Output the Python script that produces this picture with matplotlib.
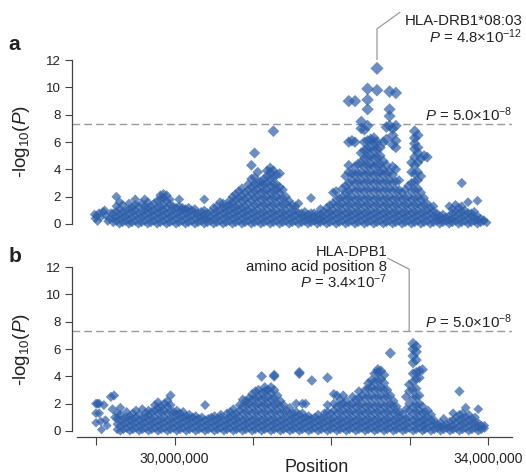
"""
Regional association plot of the MHC region: two stacked panels (a, b)
of -log10(P) against chromosome position, drawn as semi-transparent diamonds.
"""

import matplotlib

matplotlib.use("Agg")
import matplotlib.pyplot as plt  # noqa: E402
from matplotlib.transforms import blended_transform_factory  # noqa: E402

# position (Mb) -> -log10(P) values, panel a
A_COLUMNS = [
    (28.98, [0.7]), (28.99, [0.4]), (29.01, [0.6]), (29.02, [0.2]), (29.04, [0.8]),
    (29.06, [0.5]), (29.09, [0.9]), (29.11, [1.0]), (29.13, [0.6]), (29.15, [0.2]),
    (29.17, [0.4]), (29.19, [0.8]),
    (29.22, [0.1, 0.4, 0.8]), (29.26, [0.2, 0.5, 0.9, 1.3, 2.0]),
    (29.30, [0.0, 0.4, 0.7, 1.1, 1.6]), (29.34, [0.1, 0.5, 0.9, 1.4]),
    (29.38, [0.2, 0.6, 1.0]), (29.42, [0.0, 0.3, 0.7, 1.1, 1.5]),
    (29.46, [0.1, 0.5, 0.9, 1.2]), (29.50, [0.2, 0.6, 1.0, 1.4, 1.8]),
    (29.54, [0.0, 0.4, 0.8, 1.3]), (29.58, [0.1, 0.5, 0.9, 1.5]),
    (29.62, [0.2, 0.6, 1.0, 1.3, 1.8]), (29.66, [0.0, 0.4, 0.8, 1.2, 1.6]),
    (29.70, [0.1, 0.5, 0.9, 1.3]), (29.74, [0.2, 0.6, 1.0, 1.5]),
    (29.78, [0.0, 0.4, 0.8, 1.2, 1.7]), (29.82, [0.1, 0.5, 0.9, 1.3, 1.8, 2.1]),
    (29.86, [0.2, 0.6, 1.0, 1.4, 1.9, 2.2]), (29.90, [0.0, 0.4, 0.8, 1.2, 1.7, 2.1]),
    (29.94, [0.1, 0.5, 0.9, 1.4, 1.8]), (29.98, [0.2, 0.6, 1.0, 1.3]),
    (30.02, [0.0, 0.4, 0.8, 1.2]), (30.06, [0.1, 0.5, 0.9, 1.3, 1.8]),
    (30.10, [0.2, 0.6, 1.0, 1.2]), (30.14, [0.0, 0.4, 0.8, 1.1]),
    (30.18, [0.1, 0.5, 0.9, 1.2]), (30.22, [0.2, 0.6, 1.0]),
    (30.26, [0.0, 0.4, 0.8, 1.1]), (30.30, [0.1, 0.5, 0.8]),
    (30.34, [0.2, 0.5, 0.9]), (30.38, [0.0, 0.4, 0.7, 1.0, 1.8]),
    (30.42, [0.1, 0.4, 0.8]), (30.46, [0.2, 0.5, 0.9]),
    (30.50, [0.0, 0.4, 0.8, 1.2]), (30.54, [0.1, 0.5, 0.9, 1.3]),
    (30.58, [0.2, 0.6, 1.0, 1.6]), (30.62, [0.0, 0.4, 0.8, 1.2, 1.5]),
    (30.66, [0.1, 0.5, 0.9, 1.3]), (30.70, [0.2, 0.6, 1.0, 1.4, 1.7]),
    (30.74, [0.0, 0.4, 0.8, 1.2, 1.6, 2.0]), (30.78, [0.1, 0.5, 0.9, 1.3, 1.8, 2.2]),
    (30.82, [0.2, 0.6, 1.0, 1.4, 1.9, 2.4]), (30.86, [0.0, 0.4, 0.8, 1.2, 1.7, 2.1, 2.6]),
    (30.90, [0.1, 0.5, 0.9, 1.3, 1.8, 2.3]), (30.94, [0.2, 0.6, 1.0, 1.5, 2.0, 2.5, 2.9]),
    (30.98, [0.0, 0.4, 0.8, 1.2, 1.7, 2.2, 2.7, 3.3, 4.3]),
    (31.02, [0.1, 0.5, 0.9, 1.4, 1.9, 2.4, 2.9, 3.4, 5.2]),
    (31.06, [0.2, 0.6, 1.0, 1.5, 2.0, 2.5, 3.0, 3.8]),
    (31.10, [0.0, 0.4, 0.8, 1.3, 1.8, 2.3, 2.8, 3.1]),
    (31.14, [0.1, 0.5, 0.9, 1.4, 1.9, 2.4, 2.9, 3.3]),
    (31.18, [0.2, 0.6, 1.0, 1.5, 2.0, 2.5, 3.0, 3.5, 3.9]),
    (31.22, [0.0, 0.4, 0.8, 1.3, 1.8, 2.3, 2.8, 3.3, 3.8, 4.1]),
    (31.26, [0.1, 0.5, 0.9, 1.4, 1.9, 2.4, 2.9, 3.4, 3.9, 6.8]),
    (31.30, [0.2, 0.6, 1.0, 1.5, 2.0, 2.5, 2.9, 3.6]),
    (31.34, [0.0, 0.4, 0.8, 1.3, 1.8, 2.3, 2.7, 3.7]),
    (31.38, [0.1, 0.5, 0.9, 1.4, 1.9, 2.5]), (31.42, [0.2, 0.6, 1.0, 1.5, 2.0]),
    (31.46, [0.0, 0.4, 0.8, 1.3, 1.7]), (31.50, [0.1, 0.5, 0.9, 1.4]),
    (31.54, [0.2, 0.6, 1.0, 1.3]), (31.58, [0.0, 0.4, 0.8, 1.5]),
    (31.62, [0.1, 0.5, 0.8]), (31.66, [0.2, 0.5, 0.9]), (31.70, [0.0, 0.4, 0.7]),
    (31.74, [0.1, 0.4, 0.8, 1.9]), (31.78, [0.2, 0.5, 0.8]), (31.82, [0.0, 0.3, 0.7]),
    (31.86, [0.1, 0.4, 0.7, 1.1]), (31.90, [0.2, 0.5, 0.9]),
    (31.94, [0.0, 0.4, 0.8, 1.2]), (31.98, [0.1, 0.5, 0.9, 1.4]),
    (32.02, [0.2, 0.6, 1.0, 1.5, 2.3]), (32.06, [0.0, 0.4, 0.8, 1.3, 1.8, 2.4]),
    (32.10, [0.1, 0.5, 0.9, 1.4, 1.9]), (32.14, [0.2, 0.6, 1.0, 1.5, 2.0, 2.6]),
    (32.18, [0.0, 0.4, 0.8, 1.3, 1.8, 2.3, 2.8, 3.5]),
    (32.22, [0.1, 0.5, 0.9, 1.4, 1.9, 2.4, 3.0, 3.8, 4.3, 6.0, 9.0]),
    (32.26, [0.2, 0.6, 1.0, 1.5, 2.0, 2.6, 3.2, 3.7, 6.1]),
    (32.30, [0.0, 0.4, 0.8, 1.3, 1.8, 2.4, 3.0, 3.6, 4.2, 6.0, 9.0]),
    (32.34, [0.1, 0.5, 0.9, 1.4, 1.9, 2.5, 3.1, 3.7, 4.4]),
    (32.38, [0.2, 0.6, 1.0, 1.5, 2.0, 2.6, 3.2, 3.8, 4.5, 5.2, 7.0, 7.5]),
    (32.42, [0.0, 0.4, 0.8, 1.3, 1.8, 2.4, 3.0, 3.6, 4.2, 4.8, 5.4, 6.0, 6.9]),
    (32.46, [0.1, 0.5, 0.9, 1.4, 1.9, 2.5, 3.1, 3.7, 4.3, 4.9, 5.5, 6.1, 7.2, 8.4, 9.1, 9.9]),
    (32.50, [0.2, 0.6, 1.0, 1.5, 2.0, 2.6, 3.2, 3.8, 4.4, 5.0, 5.6, 6.2]),
    (32.54, [0.0, 0.4, 0.8, 1.3, 1.8, 2.4, 3.0, 3.6, 4.2, 4.8, 5.4, 6.0, 6.3]),
    (32.58, [0.1, 0.5, 0.9, 1.4, 1.9, 2.5, 3.1, 3.7, 4.3, 4.9, 5.5, 6.0, 9.8, 11.4]),
    (32.62, [0.2, 0.6, 1.0, 1.5, 2.0, 2.6, 3.2, 3.8, 4.4, 5.0, 5.6]),
    (32.66, [0.0, 0.4, 0.8, 1.3, 1.8, 2.4, 3.0, 3.6, 4.0, 4.6, 6.0]),
    (32.70, [0.1, 0.5, 0.9, 1.4, 1.9, 2.5, 3.1, 3.7, 4.3, 6.2, 7.1]),
    (32.74, [0.2, 0.6, 1.0, 1.5, 2.0, 2.6, 3.2, 3.8, 7.2, 7.9, 8.4, 9.7]),
    (32.78, [0.0, 0.4, 0.8, 1.3, 1.8, 2.4, 3.0, 3.6, 4.2, 5.8, 6.5, 7.0]),
    (32.82, [0.1, 0.5, 0.9, 1.4, 1.9, 2.5, 3.1, 4.0, 5.6, 6.1, 7.2, 9.6]),
    (32.86, [0.2, 0.6, 1.0, 1.5, 2.0, 2.5, 3.2]), (32.90, [0.0, 0.4, 0.8, 1.3, 1.8, 2.3]),
    (32.94, [0.1, 0.5, 0.9, 1.4, 1.9, 2.5]), (32.98, [0.2, 0.6, 1.0, 1.5, 2.0, 2.8]),
    (33.02, [0.0, 0.4, 0.8, 1.3, 1.8, 2.4, 3.0, 3.8, 4.5]),
    (33.06, [0.1, 0.5, 0.9, 1.4, 1.9, 2.5, 3.1, 3.7, 4.3, 4.9, 5.5, 5.9, 6.3, 6.8]),
    (33.10, [0.2, 0.6, 1.0, 1.5, 2.0, 2.6, 3.2, 3.8, 4.5, 5.2, 5.6, 6.5]),
    (33.14, [0.0, 0.4, 0.8, 1.3, 1.8, 2.3, 3.5, 4.8]),
    (33.18, [0.1, 0.5, 0.9, 1.4, 1.9, 5.0]), (33.22, [0.2, 0.6, 1.0, 1.5, 4.9]),
    (33.26, [0.0, 0.4, 0.8, 1.2]), (33.30, [0.1, 0.5, 0.9, 1.3]), (33.34, [0.2, 0.5, 0.8]),
    (33.38, [0.0, 0.3, 0.6]), (33.42, [0.1, 0.4, 0.7]), (33.46, [0.2, 0.5]),
    (33.50, [0.0, 0.3, 0.6, 1.3]), (33.54, [0.1, 0.4, 0.8, 1.1]),
    (33.58, [0.2, 0.5, 0.9, 1.4]), (33.62, [0.0, 0.4, 0.8, 1.2]),
    (33.66, [0.1, 0.5, 0.9, 1.3, 3.0]), (33.70, [0.2, 0.6, 1.0]),
    (33.74, [0.0, 0.4, 0.8, 1.6]), (33.78, [0.1, 0.5, 0.8]), (33.82, [0.2, 0.5, 0.9]),
    (33.86, [0.0, 0.3, 0.6, 1.7]), (33.90, [0.1, 0.4]), (33.94, [0.2, 0.3]), (33.98, [0.1]),
]

# panel b
B_COLUMNS = [
    (29.00, [0.6, 1.3, 2.0]), (29.02, [2.0]), (29.04, [1.3, 2.0]), (29.06, [0.7]),
    (29.07, [0.1]), (29.10, [1.9]), (29.12, [0.8]), (29.14, [0.4]), (29.19, [2.5]),
    (29.21, [1.6]), (29.23, [2.6]), (29.24, [1.0]),
    (29.27, [0.1, 0.5, 0.9, 1.3]), (29.31, [0.0, 0.4, 0.8, 1.2, 1.7]),
    (29.35, [0.1, 0.5, 0.9]), (29.39, [0.2, 0.6, 1.0, 1.4]), (29.43, [0.0, 0.4, 0.8, 1.1]),
    (29.47, [0.1, 0.5, 0.9, 1.3]), (29.51, [0.2, 0.6, 1.0, 1.5]),
    (29.55, [0.0, 0.4, 0.8, 1.2]), (29.59, [0.1, 0.5, 0.9, 1.6]),
    (29.63, [0.2, 0.6, 1.0, 1.3]), (29.67, [0.0, 0.4, 0.8, 1.2, 1.5]),
    (29.71, [0.1, 0.5, 0.9, 1.4]), (29.75, [0.2, 0.6, 1.0, 1.5, 1.9]),
    (29.79, [0.0, 0.4, 0.8, 1.3, 1.7, 2.1]), (29.83, [0.1, 0.5, 0.9, 1.4, 1.8]),
    (29.87, [0.2, 0.6, 1.0, 1.5, 2.0]), (29.91, [0.0, 0.4, 0.8, 1.3, 1.8, 2.2]),
    (29.95, [0.1, 0.5, 0.9, 1.4, 1.9, 2.6]), (29.99, [0.2, 0.6, 1.0, 1.4]),
    (30.03, [0.0, 0.4, 0.8, 1.2, 1.5]), (30.07, [0.1, 0.5, 0.9, 1.3]),
    (30.11, [0.2, 0.6, 1.0, 1.4]), (30.15, [0.0, 0.4, 0.8, 1.1]),
    (30.19, [0.1, 0.5, 0.9, 1.2]), (30.23, [0.2, 0.6, 1.0]),
    (30.27, [0.0, 0.4, 0.8, 1.1]), (30.31, [0.1, 0.5, 0.9]), (30.35, [0.2, 0.6, 1.0]),
    (30.39, [0.0, 0.4, 0.8, 1.9]), (30.43, [0.1, 0.5, 0.9]), (30.47, [0.2, 0.6, 1.0]),
    (30.51, [0.0, 0.4, 0.8, 1.1]), (30.55, [0.1, 0.5, 0.9]),
    (30.59, [0.2, 0.6, 1.0, 1.2]), (30.63, [0.0, 0.4, 0.8]),
    (30.67, [0.1, 0.5, 0.9, 1.3]), (30.71, [0.2, 0.6, 1.0, 1.4]),
    (30.75, [0.0, 0.4, 0.8, 1.2, 1.6]), (30.79, [0.1, 0.5, 0.9, 1.3]),
    (30.83, [0.2, 0.6, 1.0, 1.5, 1.9]), (30.87, [0.0, 0.4, 0.8, 1.3, 1.8, 2.3]),
    (30.91, [0.1, 0.5, 0.9, 1.4, 1.9, 2.2]), (30.95, [0.2, 0.6, 1.0, 1.5, 2.0, 2.4]),
    (30.99, [0.0, 0.4, 0.8, 1.3, 1.8, 2.3, 2.7]),
    (31.03, [0.1, 0.5, 0.9, 1.4, 1.9, 2.4, 2.9]),
    (31.07, [0.2, 0.6, 1.0, 1.5, 2.0, 2.5, 3.0]),
    (31.11, [0.0, 0.4, 0.8, 1.3, 1.8, 2.3, 2.8, 4.0]),
    (31.15, [0.1, 0.5, 0.9, 1.4, 1.9, 2.4, 2.9, 3.2]),
    (31.19, [0.2, 0.6, 1.0, 1.5, 2.0, 2.5, 3.0]),
    (31.23, [0.0, 0.4, 0.8, 1.3, 1.8, 2.3, 2.8, 3.2]),
    (31.27, [0.1, 0.5, 0.9, 1.4, 1.9, 2.4, 3.0, 4.0, 4.1]),
    (31.31, [0.2, 0.6, 1.0, 1.5, 2.0, 2.6]), (31.35, [0.0, 0.4, 0.8, 1.3, 1.8, 2.2]),
    (31.39, [0.1, 0.5, 0.9, 1.4, 1.9]), (31.43, [0.2, 0.6, 1.0, 1.5]),
    (31.47, [0.0, 0.4, 0.8, 1.2, 1.7]), (31.51, [0.1, 0.5, 0.9, 1.3]),
    (31.55, [0.2, 0.6, 1.0, 1.4, 2.0]), (31.59, [0.0, 0.4, 0.8, 1.2, 4.2, 4.3]),
    (31.63, [0.1, 0.5, 0.9, 1.3, 2.0]), (31.67, [0.2, 0.6, 1.0, 2.0]),
    (31.71, [0.0, 0.4, 0.8, 1.1]), (31.75, [0.1, 0.5, 0.9, 3.7]),
    (31.79, [0.2, 0.6, 1.0]), (31.83, [0.0, 0.4, 0.8, 1.2]), (31.87, [0.1, 0.5, 0.9]),
    (31.91, [0.2, 0.6, 1.0, 1.3]), (31.95, [0.0, 0.4, 0.8, 1.4, 1.9, 3.9]),
    (31.99, [0.1, 0.5, 0.9, 1.3]), (32.03, [0.2, 0.6, 1.0, 1.5, 2.0, 2.7]),
    (32.07, [0.0, 0.4, 0.8, 1.3, 1.8, 2.6]), (32.11, [0.1, 0.5, 0.9, 1.4, 1.9, 2.3]),
    (32.15, [0.2, 0.6, 1.0, 1.5, 2.0, 2.6]), (32.19, [0.0, 0.4, 0.8, 1.3, 1.8, 2.2]),
    (32.23, [0.1, 0.5, 0.9, 1.4, 1.9]), (32.27, [0.2, 0.6, 1.0, 1.5, 2.0, 2.5]),
    (32.31, [0.0, 0.4, 0.8, 1.3, 1.8, 2.3]),
    (32.35, [0.1, 0.5, 0.9, 1.4, 1.9, 2.4, 2.9]),
    (32.39, [0.2, 0.6, 1.0, 1.5, 2.0, 2.6]),
    (32.43, [0.0, 0.4, 0.8, 1.3, 1.8, 2.4, 3.0]),
    (32.47, [0.1, 0.5, 0.9, 1.4, 1.9, 2.5, 3.1, 3.5]),
    (32.51, [0.2, 0.6, 1.0, 1.5, 2.0, 2.6, 3.2, 3.7]),
    (32.55, [0.0, 0.4, 0.8, 1.3, 1.8, 2.4, 3.0, 3.6, 4.2]),
    (32.59, [0.1, 0.5, 0.9, 1.4, 1.9, 2.5, 3.1, 3.7, 4.3, 4.5]),
    (32.63, [0.2, 0.6, 1.0, 1.5, 2.0, 2.6, 3.2, 3.8, 4.4]),
    (32.67, [0.0, 0.4, 0.8, 1.3, 1.8, 2.4, 3.0, 3.5, 4.1]),
    (32.71, [0.1, 0.5, 0.9, 1.4, 1.9, 2.5, 3.0]),
    (32.75, [0.2, 0.6, 1.0, 1.5, 2.0, 2.6, 5.7]),
    (32.79, [0.0, 0.4, 0.8, 1.3, 1.8, 2.2]), (32.83, [0.1, 0.5, 0.9, 1.4, 1.8]),
    (32.87, [0.2, 0.6, 1.0, 1.4]), (32.91, [0.0, 0.4, 0.8, 1.2]),
    (32.95, [0.1, 0.5, 0.9, 1.6, 2.5]), (32.99, [0.2, 0.6, 1.0, 1.5, 2.0, 2.9, 3.4]),
    (33.04, [0.0, 0.4, 0.8, 1.3, 1.8, 2.4, 3.0, 3.6, 4.2, 5.0, 5.5, 6.0, 6.4]),
    (33.08, [0.1, 0.5, 0.9, 1.4, 1.9, 2.5, 3.1, 3.8, 4.3, 5.2, 5.8, 6.2]),
    (33.12, [0.2, 0.6, 1.0, 1.5, 2.0, 2.6, 3.9, 4.4]),
    (33.16, [0.0, 0.4, 0.8, 1.3, 1.8, 4.5]), (33.19, [0.1, 0.5, 0.9, 1.4]),
    (33.23, [0.2, 0.6, 1.0, 1.5]), (33.27, [0.0, 0.4, 0.8, 1.2]),
    (33.31, [0.1, 0.5, 0.8]), (33.35, [0.2, 0.5]), (33.39, [0.0, 0.3, 0.6]),
    (33.43, [0.1, 0.4, 0.9]), (33.47, [0.2, 0.5]), (33.51, [0.0, 0.3, 0.7]),
    (33.55, [0.1, 0.4, 0.8, 1.3]), (33.59, [0.2, 0.6, 1.0]),
    (33.63, [0.0, 0.4, 0.8, 1.2, 2.9]), (33.67, [0.1, 0.5, 0.9, 1.3]),
    (33.71, [0.2, 0.6, 1.0, 1.7]), (33.75, [0.0, 0.4, 0.8, 1.2]),
    (33.79, [0.1, 0.5, 0.9]), (33.83, [0.2, 0.6, 1.0]), (33.87, [0.0, 0.3, 0.6, 1.6]),
    (33.91, [0.1, 0.4]), (33.95, [0.2, 0.4]),
]

Y_TICKS = [0, 2, 4, 6, 8, 10, 12]
X_TICKS = [29, 30, 31, 32, 33, 34]
X_TICK_LABELS = ["", "30,000,000", "", "", "", "34,000,000"]
GW_LINE = 7.30  # -log10(5e-8)
GW_LABEL = r"$\it{P}$ = 5.0×10$^{-8}$"
LEAD_A = ("HLA-DRB1*08:03", r"$\it{P}$ = 4.8×10$^{-12}$", 32.58)
LEAD_B = ("HLA-DPB1", "amino acid position 8", r"$\it{P}$ = 3.4×10$^{-7}$", 32.99)

COLOR = "#2d5ea9"
GREY = "#9a9a9a"
TEXT = "#222222"

plt.rcParams["font.family"] = ["Liberation Sans", "DejaVu Sans"]
plt.rcParams["mathtext.fontset"] = "custom"
plt.rcParams["mathtext.rm"] = "Liberation Sans"
plt.rcParams["mathtext.it"] = "Liberation Sans:italic"

W, H = 526, 476
fig = plt.figure(figsize=(W / 100, H / 100), dpi=100)
ax_a = fig.add_axes([72 / W, (H - 230) / H, 440 / W, 178 / H])
ax_b = fig.add_axes([72 / W, (H - 437) / H, 440 / W, 178 / H])


def flatten(columns):
    xs, ys = [], []
    for pos, vals in columns:
        for v in vals:
            xs.append(pos)
            ys.append(v)
    return xs, ys


for ax, cols in ((ax_a, A_COLUMNS), (ax_b, B_COLUMNS)):
    xs, ys = flatten(cols)
    sizes = [22 + 2.0 * v for v in ys]
    ax.scatter(xs, ys, s=sizes, marker="D", color=COLOR, alpha=0.7,
               linewidths=0, zorder=3)
    ax.axhline(GW_LINE, color=GREY, lw=1.0, ls=(0, (5.5, 3)), zorder=2)
    trans = blended_transform_factory(ax.transAxes, ax.transData)
    ax.text(1.0, 7.55, GW_LABEL, transform=trans, ha="right", va="baseline",
            fontsize=10.8, color=TEXT, clip_on=False)

    ax.set_xlim(28.694, 34.30)
    ax.set_ylim(-0.44, 12.6)
    for side in ("top", "right"):
        ax.spines[side].set_visible(False)
    ax.spines["left"].set_bounds(0, 12)
    ax.spines["left"].set_color("#444444")
    ax.spines["left"].set_linewidth(0.9)
    ax.set_yticks(Y_TICKS)
    ax.tick_params(axis="y", direction="out", length=5, width=0.8,
                   colors="#444444", labelcolor=TEXT, labelsize=9.5, pad=3)
    ax.patch.set_visible(False)

# panel a: no x axis
ax_a.spines["bottom"].set_visible(False)
ax_a.set_xticks([])

# panel b: x axis
ax_b.spines["bottom"].set_bounds(28.76, 34.30)
ax_b.spines["bottom"].set_color("#444444")
ax_b.spines["bottom"].set_linewidth(0.9)
ax_b.set_xticks(X_TICKS)
ax_b.set_xticklabels(X_TICK_LABELS)
ax_b.tick_params(axis="x", direction="out", length=6, width=0.8,
                 colors="#444444", labelcolor=TEXT, labelsize=10, pad=5)

# y labels and panel letters
ylab = r"-log$_{10}$($\it{P}$)"
fig.text(21 / W, 1 - 142 / H, ylab, rotation=90, ha="center", va="center",
         fontsize=13.6, color=TEXT)
fig.text(21 / W, 1 - 350 / H, ylab, rotation=90, ha="center", va="center",
         fontsize=13.6, color=TEXT)
fig.text(14 / W, 1 - 44 / H, "a", ha="center", va="center", fontsize=15,
         fontweight="bold", color=TEXT)
fig.text(15 / W, 1 - 257 / H, "b", ha="center", va="center", fontsize=15,
         fontweight="bold", color=TEXT)
fig.text(317 / W, 1 - 468 / H, "Position", ha="center", va="center",
         fontsize=13, color=TEXT)

# lead variant callouts
name_a, p_a, x_a = LEAD_A
ax_a.plot([x_a, x_a, 32.87], [12.05, 14.3, 15.5], color=GREY, lw=0.9,
          clip_on=False, zorder=4)
fig.text(522 / W, 1 - 25 / H, name_a, ha="right", va="baseline",
         fontsize=10.8, color=TEXT)
fig.text(522 / W, 1 - 42.5 / H, p_a, ha="right", va="baseline",
         fontsize=10.8, color=TEXT)

name_b, desc_b, p_b, x_b = LEAD_B
ax_b.plot([32.72, x_b, x_b], [12.65, 11.85, 7.3], color=GREY, lw=0.9,
          clip_on=False, zorder=4)
fig.text(387 / W, 1 - 255.5 / H, name_b, ha="right", va="baseline",
         fontsize=10.5, color=TEXT)
fig.text(387 / W, 1 - 270.5 / H, desc_b, ha="right", va="baseline",
         fontsize=10.8, color=TEXT)
fig.text(387 / W, 1 - 288 / H, p_b, ha="right", va="baseline",
         fontsize=10.8, color=TEXT)

fig.savefig("out.png", dpi=100)
